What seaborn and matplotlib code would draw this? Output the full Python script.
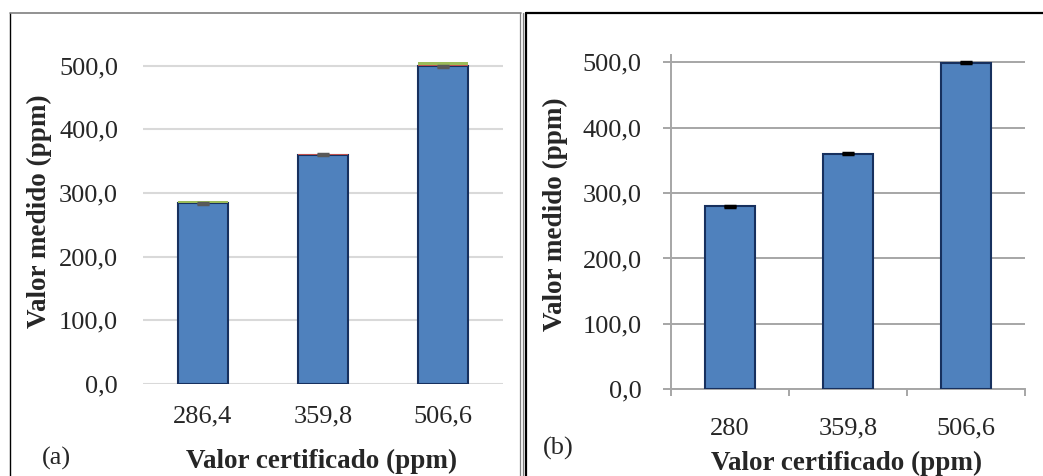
import matplotlib
matplotlib.use("Agg")
import matplotlib.pyplot as plt
from matplotlib.lines import Line2D
from matplotlib.ticker import FuncFormatter, MultipleLocator
import seaborn as sns

# Panel (a): certified values and measured results (stacked components on top)
cats_a = ["286,4", "359,8", "506,6"]
measured_a = [284.0, 360.0, 499.0]
red_a = [0.5, 1.5, 1.8]
green_a = [2.5, 0.6, 5.5]
err_a = [1.0, 1.0, 1.2]

# Panel (b)
cats_b = ["280", "359,8", "506,6"]
measured_b = [279.5, 360.0, 499.5]
err_b = [1.0, 1.0, 1.2]

sns.set_style("white")
plt.rcParams["font.family"] = ["Liberation Serif", "DejaVu Serif"]

W, H = 1043, 476
fig = plt.figure(figsize=(W / 100, H / 100), dpi=100)


def rect(x0, y0, x1, y1):
    return [x0 / W, 1 - y1 / H, (x1 - x0) / W, (y1 - y0) / H]


def fx(x):
    return x / W


def fy(y):
    return 1 - y / H


BLUE = "#4f81bd"
EDGE = "#17305e"
fmt = FuncFormatter(lambda v, p: f"{v:.1f}".replace(".", ","))
FS = 19
FSL = 19.5

# ---------------- panel (a) ----------------
ax1 = fig.add_axes(rect(143, 53, 503, 384))
sns.barplot(x=cats_a, y=measured_a, ax=ax1, color=BLUE, saturation=1,
            edgecolor=EDGE, linewidth=1.5, width=0.42, zorder=3)
pos = list(range(len(cats_a)))
ax1.bar(pos, red_a, bottom=measured_a, width=0.42, color="#c0504d",
        linewidth=0, zorder=5)
ax1.bar(pos, green_a, bottom=[m + r for m, r in zip(measured_a, red_a)],
        width=0.42, color="#9bbb59", linewidth=0, zorder=5)
ax1.errorbar(pos, measured_a, yerr=err_a, fmt="none", ecolor="#595959",
             elinewidth=2.5, capsize=4.3, capthick=2.5, zorder=6)
ax1.set_ylim(0, 520)
ax1.set_xlim(-0.5, 2.5)
ax1.yaxis.set_major_locator(MultipleLocator(100))
ax1.yaxis.set_major_formatter(fmt)
ax1.yaxis.grid(True, color="#d9d9d9", lw=1.5)
ax1.set_axisbelow(True)
for s in ax1.spines.values():
    s.set_visible(False)
ax1.tick_params(axis="y", length=0, pad=18, labelsize=FS)
ax1.tick_params(axis="x", length=0, pad=15.5, labelsize=FS)
ax1.set_xlabel("Valor certificado (ppm)", fontsize=FSL, fontweight="bold")
ax1.xaxis.set_label_coords(fx(322), fy(461), transform=fig.transFigure)
ax1.xaxis.label.set_va("center")
ax1.set_ylabel("Valor medido (ppm)", fontsize=FSL, fontweight="bold", va="center")
ax1.yaxis.set_label_coords(fx(39), fy(211), transform=fig.transFigure)
fig.text(fx(56), fy(458), "(a)", fontsize=FS, ha="center", va="center")

# ---------------- panel (b) ----------------
ax2 = fig.add_axes(rect(670.7, 55, 1025, 389.3))
sns.barplot(x=cats_b, y=measured_b, ax=ax2, color=BLUE, saturation=1,
            edgecolor=EDGE, linewidth=1.5, width=0.42, zorder=3)
ax2.errorbar(pos, measured_b, yerr=err_b, fmt="none", ecolor="black",
             elinewidth=2.5, capsize=4.3, capthick=2.5, zorder=6)
ax2.set_ylim(0, 511)
ax2.set_xlim(-0.5, 2.5)
ax2.yaxis.set_major_locator(MultipleLocator(100))
ax2.yaxis.set_major_formatter(fmt)
ax2.set_xticks([-0.5, 0.5, 1.5, 2.5], minor=False)
ax2.set_xticks([0, 1, 2], minor=True)
ax2.set_xticklabels([])
ax2.set_xticklabels(cats_b, minor=True)
ax2.yaxis.grid(True, color="#a6a6a6", lw=1.4)
ax2.set_axisbelow(True)
for side in ["top", "right"]:
    ax2.spines[side].set_visible(False)
for side in ["left", "bottom"]:
    ax2.spines[side].set_color("#a6a6a6")
    ax2.spines[side].set_linewidth(1.4)
ax2.tick_params(axis="y", which="major", direction="out", length=6, width=1.4,
                color="#a6a6a6", pad=15, labelsize=FS, left=True)
ax2.tick_params(axis="x", which="major", direction="out", length=5, width=1.4,
                color="#a6a6a6", bottom=True)
ax2.tick_params(axis="x", which="minor", length=0, pad=20.5, labelsize=FS)
ax2.set_xlabel("Valor certificado (ppm)", fontsize=FSL, fontweight="bold")
ax2.xaxis.set_label_coords(fx(847), fy(463), transform=fig.transFigure)
ax2.xaxis.label.set_va("center")
ax2.set_ylabel("Valor medido (ppm)", fontsize=FSL, fontweight="bold", va="center")
ax2.yaxis.set_label_coords(fx(555), fy(214), transform=fig.transFigure)
fig.text(fx(558), fy(448), "(b)", fontsize=FS, ha="center", va="center")

# ---------------- panel frames ----------------
def fline(x0, y0, x1, y1, color, lw):
    fig.add_artist(Line2D([fx(x0), fx(x1)], [fy(y0), fy(y1)], color=color,
                          lw=lw, transform=fig.transFigure))

fline(10, 13, 10, 480, "black", 1.0)
fline(10, 13, 521, 13, "#7f7f7f", 1.2)
fline(520, 13, 520, 480, "#7f7f7f", 0.9)
fline(523, 13, 523, 480, "#7f7f7f", 0.9)
fline(525.8, 12.5, 525.8, 480, "black", 1.6)
fline(525.8, 13, 1050, 13, "black", 1.6)

fig.savefig("out.png", dpi=100)
